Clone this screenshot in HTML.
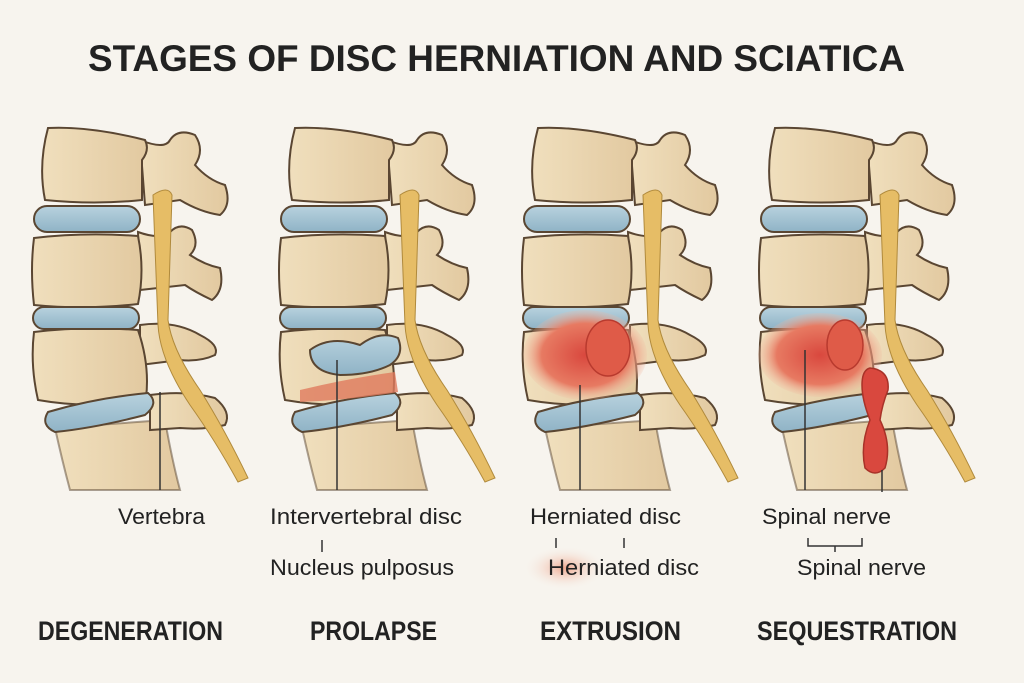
<!DOCTYPE html>
<html><head><meta charset="utf-8"><style>
html,body{margin:0;padding:0;background:#f7f4ee}
svg{display:block}
text{font-family:"Liberation Sans",sans-serif;fill:#222}
</style></head><body>
<svg width="1024" height="683" viewBox="0 0 1024 683" xmlns="http://www.w3.org/2000/svg">
<defs>
<linearGradient id="bone" x1="0" x2="1"><stop offset="0" stop-color="#f0dfbd"/><stop offset="1" stop-color="#e2c9a0"/></linearGradient>
<linearGradient id="disc" x1="0" y1="0" x2="0" y2="1"><stop offset="0" stop-color="#b8d2de"/><stop offset="1" stop-color="#8fb3c6"/></linearGradient>
<radialGradient id="red"><stop offset="0" stop-color="#d9483e"/><stop offset="0.7" stop-color="#e77a62"/><stop offset="1" stop-color="#f1b59c" stop-opacity="0.2"/></radialGradient>
<radialGradient id="pink"><stop offset="0" stop-color="#f0a88f"/><stop offset="1" stop-color="#f7f4ee" stop-opacity="0"/></radialGradient>
<g id="spine" stroke="#5a4632" stroke-width="2">
  <path d="M55 428 L165 420 Q172 460 180 490 L70 490 Q62 460 55 428Z" fill="url(#bone)" stroke-opacity="0.5"/>
  <path d="M140 140 Q165 150 170 140 Q178 128 195 135 Q205 150 195 165 Q208 180 225 185 Q232 205 220 215 Q200 212 180 200 L145 205Z" fill="url(#bone)"/>
  <path d="M138 232 Q160 240 170 232 Q180 222 192 230 Q200 245 190 255 Q205 265 220 268 Q225 290 212 300 Q195 292 185 285 L140 290Z" fill="url(#bone)"/>
  <path d="M140 325 Q175 320 200 335 Q220 345 215 355 Q200 362 180 360 L140 365Z" fill="url(#bone)"/>
  <path d="M150 395 Q185 390 215 398 Q232 412 225 425 Q205 430 180 428 L150 430Z" fill="url(#bone)"/>
  <path d="M153 195 Q168 185 172 195 L168 320 Q172 350 200 390 Q225 430 248 478 L238 482 Q215 440 190 405 Q160 360 158 325Z" fill="#e6bd66" stroke="#b08a3c" stroke-width="1"/>
  <path d="M48 128 Q90 126 145 140 Q150 150 142 160 L142 200 Q95 205 45 200 Q38 165 48 128Z" fill="url(#bone)"/>
  <path d="M34 238 Q85 232 138 236 Q145 270 138 304 Q85 310 34 305 Q30 270 34 238Z" fill="url(#bone)"/>
  <path d="M34 332 Q85 326 138 330 Q150 365 146 398 Q95 410 38 400 Q30 365 34 332Z" fill="url(#bone)"/>
  <rect x="34" y="206" width="106" height="26" rx="13" fill="url(#disc)"/>
  <rect x="33" y="307" width="106" height="22" rx="11" fill="url(#disc)"/>
  <path d="M48 412 Q95 398 148 393 Q160 403 145 415 Q95 428 55 432 Q40 425 48 412Z" fill="url(#disc)"/>
</g>
</defs>
<rect width="1024" height="683" fill="#f7f4ee"/>
<text x="88" y="71" font-size="37" font-weight="bold" textLength="817" lengthAdjust="spacingAndGlyphs" fill="#2a2a2a">STAGES OF DISC HERNIATION AND SCIATICA</text>

<use href="#spine"/>
<use href="#spine" transform="translate(247,0)"/>
<use href="#spine" transform="translate(490,0)"/>
<use href="#spine" transform="translate(727,0)"/>

<path d="M300 390 Q350 378 395 372 L398 392 Q350 400 300 402Z" fill="#e07a5e" opacity="0.8"/>
<path d="M310 350 Q330 335 360 345 Q380 330 398 338 Q405 355 390 365 Q370 375 340 375 Q310 372 310 350Z" fill="url(#disc)" stroke="#5a4632" stroke-width="2"/>
<ellipse cx="585" cy="355" rx="62" ry="45" fill="url(#red)"/>
<ellipse cx="608" cy="348" rx="22" ry="28" fill="#df5b48" stroke="#b83a2e" stroke-width="1.5"/>
<ellipse cx="820" cy="355" rx="62" ry="42" fill="url(#red)"/>
<ellipse cx="845" cy="345" rx="18" ry="25" fill="#df5b48" stroke="#b83a2e" stroke-width="1.5"/>
<path d="M870 368 Q890 370 888 390 Q882 405 880 420 Q892 445 885 468 Q875 478 865 468 Q860 445 870 420 Q862 400 862 385 Q862 370 870 368Z" fill="#d9483e" stroke="#a83228" stroke-width="1.5"/>

<g stroke="#333" stroke-width="1.5">
<line x1="160" y1="392" x2="160" y2="490"/>
<line x1="337" y1="360" x2="337" y2="490"/>
<line x1="322" y1="540" x2="322" y2="552"/>
<line x1="580" y1="385" x2="580" y2="490"/>
<line x1="556" y1="538" x2="556" y2="548"/>
<line x1="624" y1="538" x2="624" y2="548"/>
<line x1="805" y1="350" x2="805" y2="490"/>
<line x1="882" y1="470" x2="882" y2="492"/>
<polyline points="808,538 808,546 862,546 862,538" fill="none"/>
<line x1="835" y1="546" x2="835" y2="552"/>
</g>
<ellipse cx="565" cy="568" rx="42" ry="22" fill="url(#pink)"/>

<g font-size="22.5">
<text x="118" y="524" textLength="87" lengthAdjust="spacingAndGlyphs">Vertebra</text>
<text x="270" y="524" textLength="192" lengthAdjust="spacingAndGlyphs">Intervertebral disc</text>
<text x="270" y="575" textLength="184" lengthAdjust="spacingAndGlyphs">Nucleus pulposus</text>
<text x="530" y="524" textLength="151" lengthAdjust="spacingAndGlyphs">Herniated disc</text>
<text x="548" y="575" textLength="151" lengthAdjust="spacingAndGlyphs">Herniated disc</text>
<text x="762" y="524" textLength="129" lengthAdjust="spacingAndGlyphs">Spinal nerve</text>
<text x="797" y="575" textLength="129" lengthAdjust="spacingAndGlyphs">Spinal nerve</text>
</g>
<g font-size="27" font-weight="bold" fill="#222">
<text x="38" y="640" textLength="185" lengthAdjust="spacingAndGlyphs">DEGENERATION</text>
<text x="310" y="640" textLength="127" lengthAdjust="spacingAndGlyphs">PROLAPSE</text>
<text x="540" y="640" textLength="141" lengthAdjust="spacingAndGlyphs">EXTRUSION</text>
<text x="757" y="640" textLength="200" lengthAdjust="spacingAndGlyphs">SEQUESTRATION</text>
</g>
</svg>
</body></html>
